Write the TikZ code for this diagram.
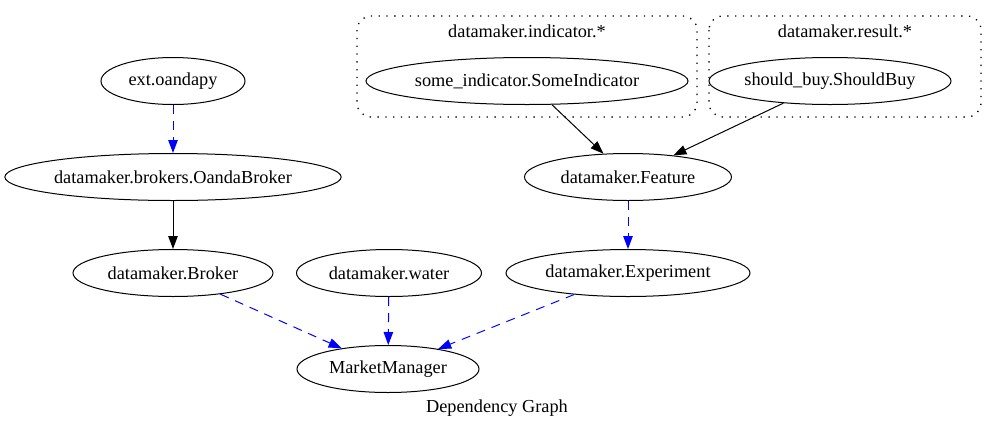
\documentclass[tikz,border=0pt]{standalone}
\usepackage{fontspec}
\setmainfont{Liberation Serif}
\usetikzlibrary{arrows.meta,shapes.geometric}
\begin{document}
\begin{tikzpicture}[x=1pt,y=-1pt,
  mod/.style={draw,ellipse,line width=1pt,inner sep=0pt,minimum height=47pt,font=\fontsize{18.3}{21}\selectfont},
  dep/.style={draw=blue,dash pattern=on 9pt off 7pt,line width=1pt,-{Triangle[length=13pt,width=9.5pt,fill=blue]}},
  hard/.style={draw=black,line width=1pt,-{Triangle[length=13pt,width=9.5pt,fill=black]}},
  clus/.style={draw,rounded corners=14pt,line width=1.3pt,dash pattern=on 1.3pt off 6.5pt},
  lbl/.style={font=\fontsize{18.3}{21}\selectfont}]
\useasboundingbox (0,0) rectangle (997,429);
% clusters
\draw[clus] (357,16) rectangle (697,117);
\draw[clus] (709,16) rectangle (981,117);
\node[lbl] (c1l) at (527,31) {datamaker.indicator.*};
\node[lbl] (c2l) at (845,31) {datamaker.result.*};
% nodes
\node[mod,minimum width=144pt] (oanda) at (173,81) {ext.oandapy};
\node[mod,minimum width=336pt] (ob) at (173,177) {datamaker.brokers.OandaBroker};
\node[mod,minimum width=200pt] (broker) at (173,273) {datamaker.Broker};
\node[mod,minimum width=185pt] (water) at (389,273) {datamaker.water};
\node[mod,minimum width=244pt] (exp) at (628,273) {datamaker.Experiment};
\node[mod,minimum width=207pt] (feat) at (628,177) {datamaker.Feature};
\node[mod,minimum width=322pt] (ind) at (527,81) {some\_indicator.SomeIndicator};
\node[mod,minimum width=239pt] (sb) at (830,81) {should\_buy.ShouldBuy};
\node[mod,minimum width=182pt] (mm) at (388,369) {MarketManager};
\node[lbl] (cap) at (497,408) {Dependency Graph};
% edges
\draw[dep] (oanda) -- (ob);
\draw[hard] (ob) -- (broker);
\draw[hard] (ind) -- (feat);
\draw[hard] (sb) -- (feat);
\draw[dep] (feat) -- (exp);
\draw[dep] (broker) -- (mm);
\draw[dep] (water) -- (mm);
\draw[dep] (exp) -- (mm);
\end{tikzpicture}
\end{document}
